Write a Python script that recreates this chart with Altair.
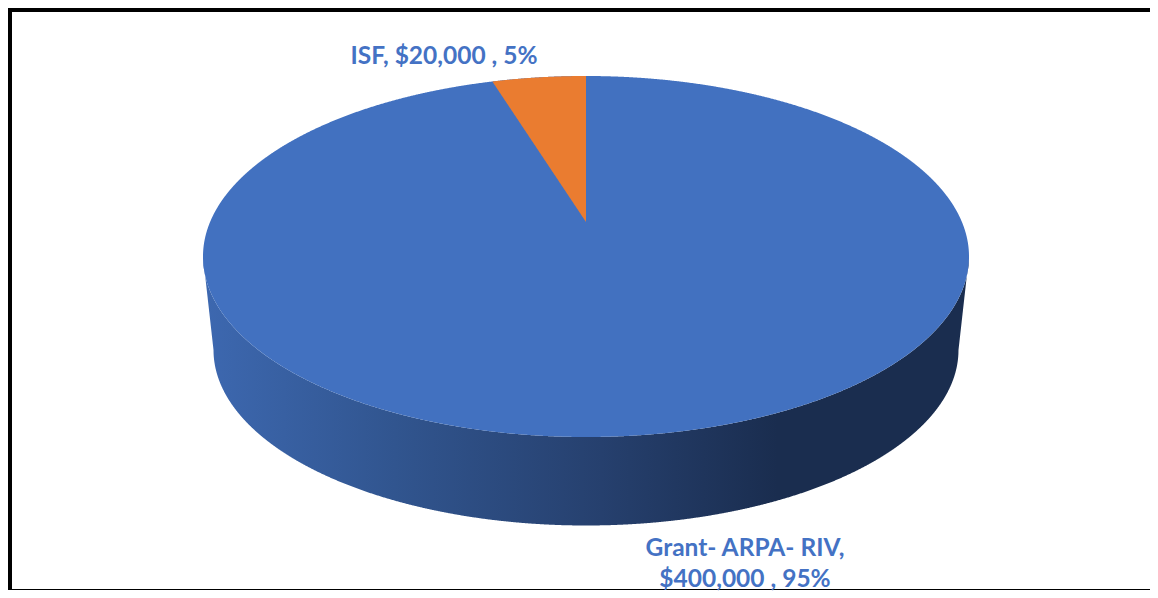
import math
import altair as alt
import pandas as pd

# ---- chart values ----
categories = ["Grant- ARPA- RIV", "ISF"]
values = [400000, 20000]
percents = [95, 5]

# ---- drawing geometry of the tilted pie (page pixels) ----
CX, CY, A, B = 586.0, 256.5, 383.0, 180.5       # top face ellipse
BCY, BA, BB = 350.0, 372.5, 175.5               # bottom face ellipse
APEX_Y, PERSP_K, PERSP_A, PERSP_B = 222.0, 0.191, 174.0, 376.0
N = 1440
PAGE_X = [8, 1150]
PAGE_Y = [590, 8]

BLUE, ORANGE, LABEL = "#4271C0", "#EA7C30", "#4472C4"


def face(x, sign, cy=CY, a=A, b=B):
    d = max(0.0, 1 - ((x - CX) / a) ** 2)
    return cy + sign * b * math.sqrt(d)


def project(theta):
    u, v = -math.sin(theta), math.cos(theta)
    w = 1 + PERSP_K * v
    return CX + PERSP_B * u / w, APEX_Y - PERSP_A * v / w


grid = sorted(CX + A * math.cos(math.pi * i / N) for i in range(N + 1))

# top face
top = pd.DataFrame(
    {"x": grid, "y": [face(x, -1) for x in grid], "y2": [face(x, 1) for x in grid]}
)

# slice of the smaller category, its angle comes from the values
theta = 2 * math.pi * values[1] / sum(values)
ex, ey = project(theta)
wedge_x = [ex + (CX - ex) * i / 200 for i in range(201)]
wedge = pd.DataFrame(
    {
        "x": wedge_x,
        "y": [face(x, -1) for x in wedge_x],
        "y2": [ey + (APEX_Y - ey) * (x - ex) / (CX - ex) for x in wedge_x],
    }
)


# side wall: from the front of the top face to the silhouette of the bottom face
def lower(x):
    left, right = CX - BA, CX + BA
    if x < left:
        return CY + (BCY - CY) * (x - (CX - A)) / (left - (CX - A))
    if x > right:
        return CY + (BCY - CY) * ((CX + A) - x) / ((CX + A) - right)
    return face(x, 1, BCY, BA, BB)


side_x = sorted(set(grid + [CX - BA, CX + BA]))
side = pd.DataFrame(
    {"x": side_x, "y": [face(x, 1) for x in side_x], "y2": [lower(x) for x in side_x]}
)

labels = pd.DataFrame(
    {
        "x": [444, 745, 745],
        "y": [57, 549, 580],
        "t": [
            f"{categories[1]}, ${values[1]:,} , {percents[1]}%",
            f"{categories[0]},",
            f"${values[0]:,} , {percents[0]}%",
        ],
    }
)

frame = pd.DataFrame(
    {
        "x": [8, 8, 8],
        "x2": [1150, 12, 1150],
        "y": [8, 8, 589],
        "y2": [12, 590, 590],
    }
)

X = alt.X("x:Q", scale=alt.Scale(domain=PAGE_X, nice=False, zero=False), axis=None)
Y = alt.Y("y:Q", scale=alt.Scale(domain=PAGE_Y, nice=False, zero=False), axis=None)

gradient = alt.Gradient(
    gradient="linear",
    x1=0,
    x2=1,
    y1=0,
    y2=0,
    stops=[
        alt.GradientStop(offset=0.0, color="#3D68B0"),
        alt.GradientStop(offset=0.25, color="#31558F"),
        alt.GradientStop(offset=0.52, color="#26406E"),
        alt.GradientStop(offset=0.75, color="#1A2D4F"),
        alt.GradientStop(offset=1.0, color="#1A2D4F"),
    ],
)

side_layer = alt.Chart(side).mark_area(color=gradient, interpolate="linear").encode(x=X, y=Y, y2="y2:Q")
top_layer = alt.Chart(top).mark_area(color=BLUE).encode(x=X, y=Y, y2="y2:Q")
wedge_layer = alt.Chart(wedge).mark_area(color=ORANGE).encode(x=X, y=Y, y2="y2:Q")
frame_layer = alt.Chart(frame).mark_rect(color="black").encode(x=X, x2="x2:Q", y=Y, y2="y2:Q")
label_layer = (
    alt.Chart(labels)
    .mark_text(font="Lato", fontWeight="bold", fontSize=24.5, color=LABEL, align="center", baseline="middle")
    .encode(x=X, y=Y, text="t:N")
)

chart = (
    alt.layer(frame_layer, side_layer, top_layer, wedge_layer, label_layer)
    .properties(width=1142, height=582, padding=0, background="white")
    .configure_view(stroke=None)
)

chart.save("out.html", embed_options={"renderer": "svg", "actions": False})
